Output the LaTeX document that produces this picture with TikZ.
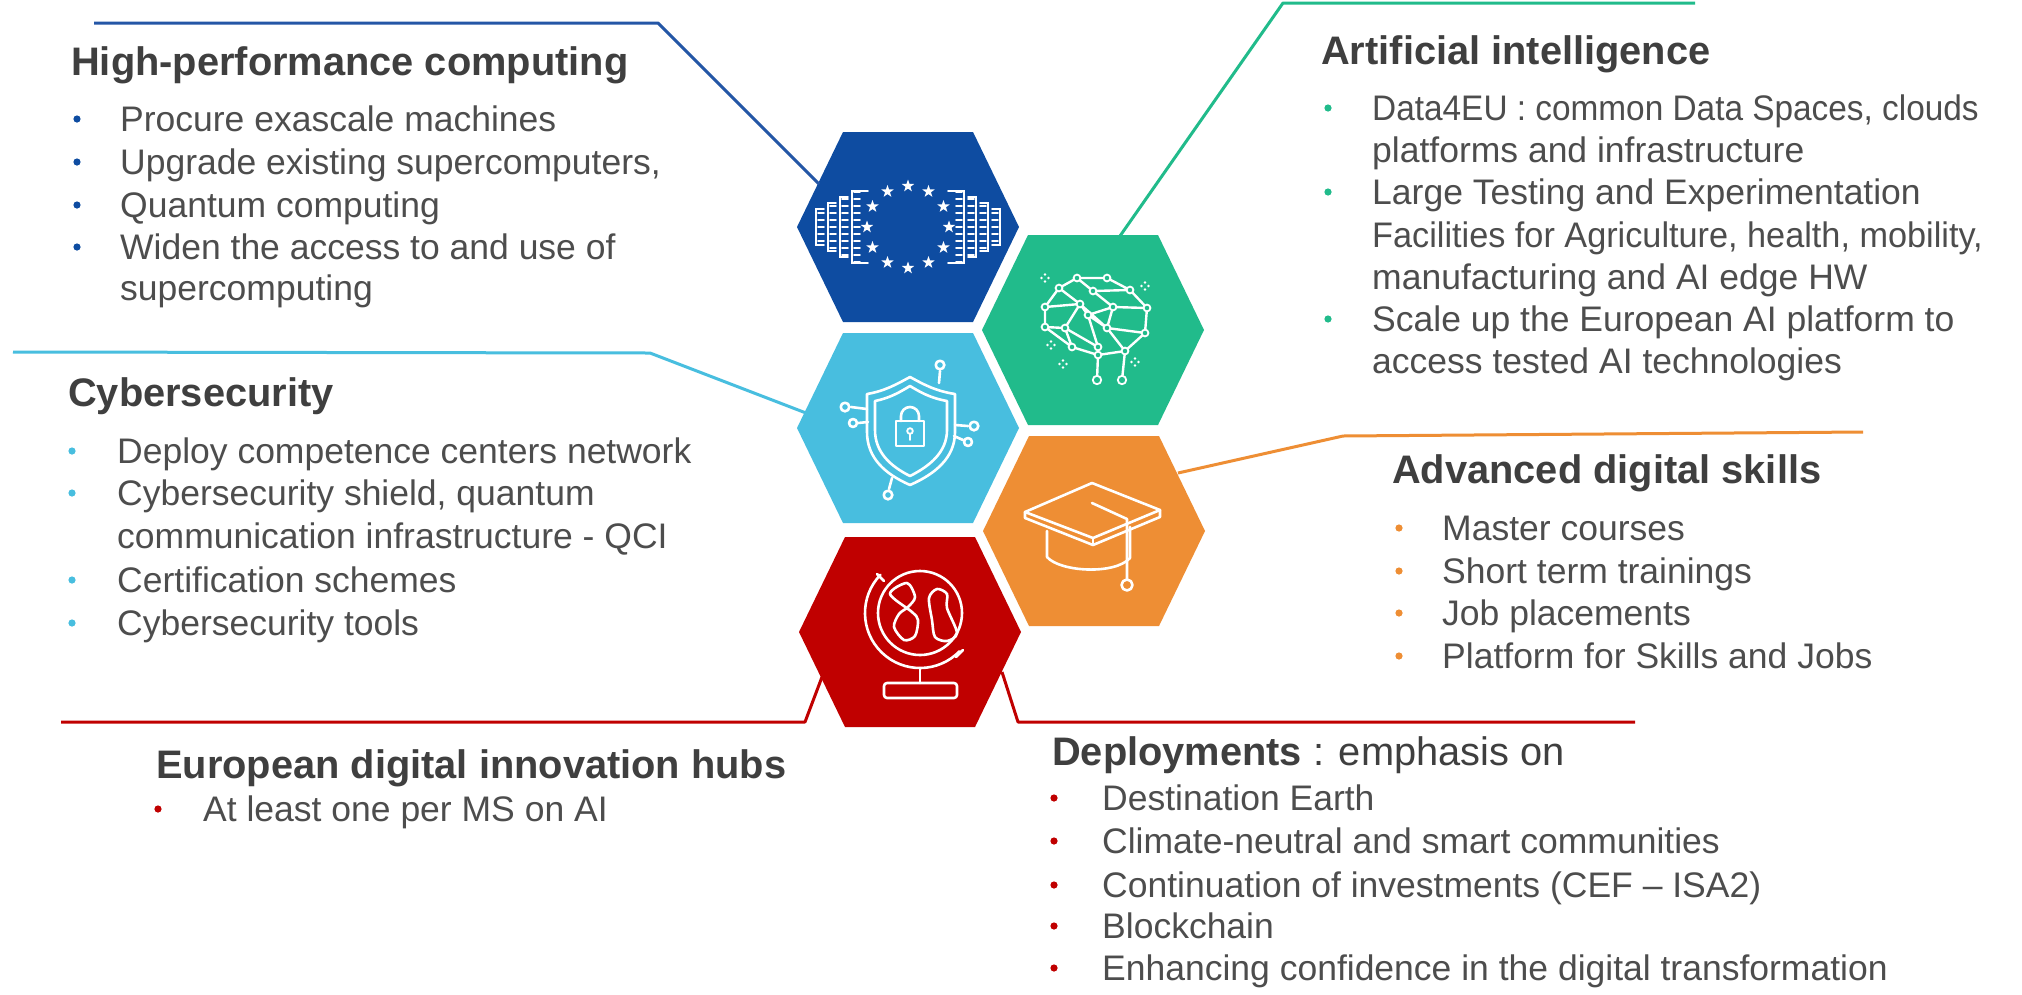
\documentclass[tikz,border=0pt]{standalone}
\usepackage{fontspec}
\setmainfont{Liberation Sans}
\usetikzlibrary{calc}
\definecolor{hpcblue}{HTML}{0E4CA1}
\definecolor{hpcline}{HTML}{2456A6}
\definecolor{aigreen}{HTML}{21BB8B}
\definecolor{cyblue}{HTML}{48BEDF}
\definecolor{skorange}{HTML}{EE8E34}
\definecolor{dred}{HTML}{C00000}
\definecolor{titlec}{HTML}{3F3F3F}
\definecolor{bodyc}{HTML}{4D4D4D}
\newcommand\hexfill[3]{\fill[#3] (#1+111,#2) -- (#1+65,#2-95) -- (#1-65,#2-95) -- (#1-111,#2) -- (#1-65,#2+95) -- (#1+65,#2+95) -- cycle;}
\newcommand\bul[3]{\fill[#3] (#1,#2-12) circle (3.6pt);}
\tikzset{
  ttl/.style={font=\fontsize{39.8}{48}\selectfont\bfseries, text=titlec, inner sep=0pt, anchor=base west},
  txt/.style={font=\fontsize{35.5}{42}\selectfont, text=bodyc, inner sep=0pt, anchor=base west},
  conn/.style={line width=3pt, line join=round},
  ico/.style={draw=white, line width=2.6pt, line cap=round, line join=round},
  icothin/.style={draw=white, line width=1.8pt, line cap=round},
  bnode/.style={draw=white, fill=aigreen, line width=1.8pt},
}
\begin{document}
\begin{tikzpicture}[x=1pt,y=-1pt]
\fill[white] (0,0) rectangle (2022,994);
\useasboundingbox (0,0) rectangle (2022,994);

% ---------- hexagons ----------
\hexfill{908}{227}{hpcblue}
\hexfill{1093}{330}{aigreen}
\hexfill{908}{428}{cyblue}
\hexfill{1094}{531}{skorange}
\hexfill{910}{632}{dred}
\coordinate (hpc) at (908,227);
\coordinate (ai) at (1093,330);
\coordinate (cy) at (908,428);
\coordinate (sk) at (1094,531);
\coordinate (ed) at (910,632);

% ---------- connectors ----------
\coordinate (hpcA) at (94,23);   \coordinate (hpcB) at (658,23);  \coordinate (hpcC) at (819,184);
\coordinate (aiA) at (1695,3);   \coordinate (aiB) at (1283,3);   \coordinate (aiC) at (1120,236);
\coordinate (cyA) at (13,352);   \coordinate (cyB) at (650,353);  \coordinate (cyC) at (806,413);
\coordinate (skA) at (1863,432); \coordinate (skB) at (1343,436); \coordinate (skC) at (1178,473);
\coordinate (edA) at (61,722);   \coordinate (edB) at (805,722);  \coordinate (edC) at (822,677);
\coordinate (dpA) at (1635,722); \coordinate (dpB) at (1018,722); \coordinate (dpC) at (1002,672);
\draw[conn,hpcline] (hpcA) -- (hpcB) -- (hpcC);
\draw[conn,aigreen] (aiA) -- (aiB) -- (aiC);
\draw[conn,cyblue] (cyA) -- (cyB) -- (cyC);
\draw[conn,skorange] (skA) -- (skB) -- (skC);
\draw[conn,dred] (edA) -- (edB) -- (edC);
\draw[conn,dred] (dpA) -- (dpB) -- (dpC);

% ---------- icon: EU supercomputing ----------
\begin{scope}[shift={(908,227)}]
  \foreach \k in {0,...,11}{
    \fill[white,shift={(\k*30:41)}] (270:6.5) -- (306:2.6) -- (342:6.5) -- (18:2.6) -- (54:6.5) -- (90:2.6) -- (126:6.5) -- (162:2.6) -- (198:6.5) -- (234:2.6) -- cycle;
  }
  \foreach \c in {0,...,3}{
    \pgfmathsetmacro\hh{36-6*\c}
    \pgfmathsetmacro\xl{-56-12*\c}
    \pgfmathtruncatemacro\nn{\hh/7}
    \draw[icothin] (\xl+8,-\hh) -- (\xl,-\hh) -- (\xl,\hh) -- (\xl+8,\hh);
    \draw[icothin] (-\xl-8,-\hh) -- (-\xl,-\hh) -- (-\xl,\hh) -- (-\xl-8,\hh);
    \foreach \j in {-\nn,...,\nn}{
      \draw[icothin] (\xl+2,\j*7) -- (\xl+8,\j*7);
      \draw[icothin] (-\xl-2,\j*7) -- (-\xl-8,\j*7);
    }
  }
  \draw[icothin] (-56,-36) -- (-40,-36);
  \draw[icothin] (-56,36) -- (-40,36);
  \draw[icothin] (56,-36) -- (40,-36);
  \draw[icothin] (56,36) -- (40,36);
\end{scope}

% ---------- icon: AI brain ----------
\coordinate (ba) at (1077,278); \coordinate (bb) at (1107,278);
\coordinate (bc) at (1059,288); \coordinate (bd) at (1130,290);
\coordinate (be) at (1093,291); \coordinate (bf) at (1045,307);
\coordinate (bg) at (1080,304); \coordinate (bh) at (1113,307);
\coordinate (bi) at (1147,308); \coordinate (bj) at (1045,327);
\coordinate (bk) at (1065,328); \coordinate (bl) at (1088,315);
\coordinate (bm) at (1107,328); \coordinate (bn) at (1145,333);
\coordinate (bo) at (1072,347); \coordinate (bp) at (1098,347);
\coordinate (bq) at (1125,351); \coordinate (br) at (1098,355);
\coordinate (bs) at (1097,380); \coordinate (bt) at (1122,380);
\draw[draw=white,line width=2.4pt,line join=round]
  (bc) -- (ba) -- (bb) -- (bd) -- (bi) -- (bn) -- (bq) -- (br) -- (bo) -- (bj) -- (bf) -- (bc)
  (ba) -- (be) -- (bh) -- (bm) -- (bq)
  (be) -- (bd)
  (bc) -- (bg) -- (bl) -- (bh) -- (bi)
  (bf) -- (bg) -- (bk) -- (bj)
  (bk) -- (bo)
  (bl) -- (bm) -- (bn)
  (bl) -- (bp) -- (bk)
  (bp) -- (br) -- (bs)
  (bq) -- (bt)
  (bg) -- (bm);
\foreach \p in {ba,bb,bc,bd,be,bf,bg,bh,bi,bj,bk,bl,bm,bn,bo,bp,bq,br}{
  \filldraw[bnode] (\p) circle (3.4pt);
}
\filldraw[bnode] (bs) circle (4.2pt);
\filldraw[bnode] (bt) circle (4.2pt);
\foreach \sx/\sy in {1045/278, 1145/286, 1051/345, 1063/364, 1135/362}{
  \fill[white] (\sx-3.5,\sy) circle (1.4pt) (\sx+3.5,\sy) circle (1.4pt) (\sx,\sy-3.5) circle (1.4pt) (\sx,\sy+3.5) circle (1.4pt);
}

% ---------- icon: cybersecurity shield ----------
\draw[ico] (867,394) .. controls (885,391) and (897,384) .. (910,377) .. controls (923,384) and (935,391) .. (955,394)
  -- (955,432) .. controls (955,458) and (935,474) .. (910,485) .. controls (885,474) and (867,458) .. (867,432) -- cycle;
\draw[ico] (875,401) .. controls (890,398) and (900,392) .. (910,386) .. controls (920,392) and (930,398) .. (947,401)
  -- (947,430) .. controls (947,452) and (930,466) .. (910,476) .. controls (890,466) and (875,452) .. (875,430) -- cycle;
\draw[ico] (896,421) rectangle (924,446);
\draw[ico] (901,421) -- (901,416) arc[start angle=180, end angle=360, radius=9] -- (919,421);
\draw[icothin] (910,431) circle (2.8pt) (910,434) -- (910,440);
\draw[ico] (939,383) -- (940,371);
\draw[ico] (940,365) circle (4.3pt);
\draw[ico] (867,409) -- (851,407);
\draw[ico] (845,407) circle (4.3pt);
\draw[ico] (868,422) -- (858,423);
\draw[ico] (853,423) circle (4pt);
\draw[ico] (955,425) -- (968,426);
\draw[ico] (974,426) circle (4.3pt);
\draw[ico] (954,436) -- (963,440);
\draw[ico] (968,442) circle (4pt);
\draw[ico] (892,478) -- (889,489);
\draw[ico] (888,495) circle (4.3pt);

% ---------- icon: graduation cap ----------
\draw[ico] (1025,512) -- (1092,483) -- (1160,510) -- (1093,538) -- cycle;
\draw[ico] (1025,512) -- (1025,518) -- (1093,545) -- (1160,517) -- (1160,510);
\draw[ico] (1093,538) -- (1093,545);
\draw[ico] (1047,531) -- (1047,557) .. controls (1060,572) and (1115,575) .. (1130,558) -- (1130,527);
\draw[ico] (1092,503) -- (1127,519) -- (1127,579);
\draw[ico] (1127,585) circle (5.5pt);

% ---------- icon: globe ----------
\draw[ico] (920,613) circle (42pt);
\draw[ico] (920,613) ++(224:55) arc[start angle=224, end angle=44, radius=55];
\draw[ico] (920,668) -- (920,683);
\draw[ico,rounded corners=3pt] (884,683) rectangle (957,698);
\draw[ico] (877,574) -- (884,581);
\draw[ico] (956,657) -- (963,650);
\draw[ico] plot[smooth cycle] coordinates {(890,594) (907,583) (915,597) (908,607) (899,614) (894,627) (904,640) (915,636) (918,620) (912,612)};
\draw[ico] plot[smooth cycle] coordinates {(929,598) (937,589) (947,594) (947,608) (957,633) (947,641) (935,637) (932,620)};

% ---------- texts: HPC ----------
\node[ttl] (hpct) at (71,75) {High-performance computing};
\node[txt] (hpc1) at (120,131) {Procure exascale machines};
\node[txt] (hpc2) at (120,174) {Upgrade existing supercomputers,};
\node[txt] (hpc3) at (120,217) {Quantum computing};
\node[txt] (hpc4) at (120,259) {Widen the access to and use of};
\node[txt] (hpc5) at (120,300) {supercomputing};
\bul{77}{131}{hpcblue}\bul{77}{174}{hpcblue}\bul{77}{217}{hpcblue}\bul{77}{259}{hpcblue}

% ---------- texts: AI ----------
\node[ttl] (ait) at (1321,64) {Artificial intelligence};
\node[txt] (ai1) at (1372,120) {\scalebox{0.94}[1]{Data4EU : common Data Spaces, clouds}};
\node[txt] (ai2) at (1372,162) {platforms and infrastructure};
\node[txt] (ai3) at (1372,204) {Large Testing and Experimentation};
\node[txt] (ai4) at (1372,247) {\scalebox{0.965}[1]{Facilities for Agriculture, health, mobility,}};
\node[txt] (ai5) at (1372,289) {manufacturing and AI edge HW};
\node[txt] (ai6) at (1372,331) {Scale up the European AI platform to};
\node[txt] (ai7) at (1372,373) {access tested AI technologies};
\bul{1328}{120}{aigreen}\bul{1328}{204}{aigreen}\bul{1328}{331}{aigreen}

% ---------- texts: Cybersecurity ----------
\node[ttl] (cyt) at (68,406) {Cybersecurity};
\node[txt] (cy1) at (117,463) {Deploy competence centers network};
\node[txt] (cy2) at (117,505) {Cybersecurity shield, quantum};
\node[txt] (cy3) at (117,548) {communication infrastructure - QCI};
\node[txt] (cy4) at (117,592) {Certification schemes};
\node[txt] (cy5) at (117,635) {Cybersecurity tools};
\bul{72}{463}{cyblue}\bul{72}{505}{cyblue}\bul{72}{592}{cyblue}\bul{72}{635}{cyblue}

% ---------- texts: Skills ----------
\node[ttl] (skt) at (1392,483) {Advanced digital skills};
\node[txt] (sk1) at (1442,540) {Master courses};
\node[txt] (sk2) at (1442,583) {Short term trainings};
\node[txt] (sk3) at (1442,625) {Job placements};
\node[txt] (sk4) at (1442,668) {Platform for Skills and Jobs};
\bul{1399}{540}{skorange}\bul{1399}{583}{skorange}\bul{1399}{625}{skorange}\bul{1399}{668}{skorange}

% ---------- texts: EDIH ----------
\node[ttl] (edt) at (156,778) {European digital innovation hubs};
\node[txt] (ed1) at (203,821) {At least one per MS on AI};
\bul{158}{821}{dred}

% ---------- texts: Deployments ----------
\node[ttl] (dpt) at (1052,765) {Deployments\mdseries{} : emphasis on};
\node[txt] (dp1) at (1102,810) {Destination Earth};
\node[txt] (dp2) at (1102,853) {Climate-neutral and smart communities};
\node[txt] (dp3) at (1102,897) {Continuation of investments (CEF – ISA2)};
\node[txt] (dp4) at (1102,938) {Blockchain};
\node[txt] (dp5) at (1102,980) {Enhancing confidence in the digital transformation};
\bul{1054}{810}{dred}\bul{1054}{853}{dred}\bul{1054}{897}{dred}\bul{1054}{938}{dred}\bul{1054}{980}{dred}
\end{tikzpicture}
\end{document}
